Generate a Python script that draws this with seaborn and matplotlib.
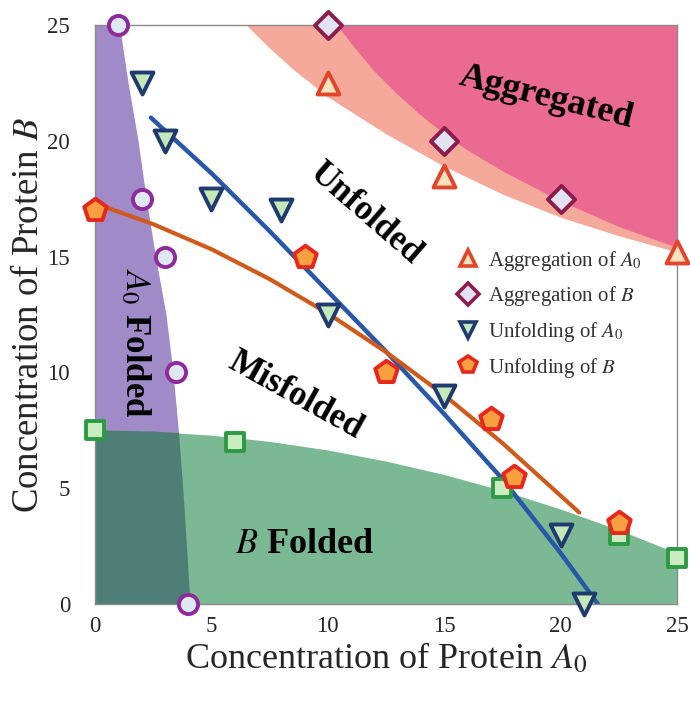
import matplotlib
matplotlib.use("Agg")
import matplotlib.pyplot as plt
import seaborn as sns
from matplotlib.lines import Line2D

sns.set_theme(style="white")
plt.rcParams['font.family'] = ['Liberation Serif', 'DejaVu Serif']
plt.rcParams['mathtext.fontset'] = 'stix'

# ---------------- data ----------------
# Aggregation of A0 (up triangles)
aggA_x = [10, 15, 25]
aggA_y = [22.5, 18.5, 15.2]
# Aggregation of B (diamonds)
aggB_x = [10, 15, 20]
aggB_y = [25, 20, 17.5]
# Unfolding of A0 (down triangles)
unfA_x = [2, 3, 5, 8, 10, 15, 20, 21]
unfA_y = [22.5, 20, 17.5, 17, 12.5, 9, 3, 0]
# Unfolding of B (pentagons)
unfB_x = [0, 9, 12.5, 17, 18, 22.5]
unfB_y = [17, 15, 10, 8, 5.5, 3.5]
# Folding of A0 boundary (circles)
foldA_x = [1, 2, 3, 3.5, 4]
foldA_y = [25, 17.5, 15, 10, 0]
# Folding of B boundary (squares)
foldB_x = [0, 6, 17.5, 22.5, 25]
foldB_y = [7.5, 7, 5, 3, 2]

# fitted curves
blue_x = [2.4, 5, 7.5, 10, 12.5, 15, 17.5, 20, 21.6]
blue_y = [21.0, 18.6, 16.1, 13.5, 10.9, 8.2, 5.4, 2.2, 0.0]
orange_x = [0, 2.5, 5, 7.5, 10, 12.5, 15, 17.5, 20.8]
orange_y = [17.3, 16.4, 15.32, 14.03, 12.55, 10.88, 9.02, 6.95, 3.95]

# region boundaries
purple_y = [0, 2.5, 5, 7.5, 10, 12.5, 15, 17.5, 20, 22.5, 25]
purple_x = [4.08, 3.93, 3.77, 3.58, 3.35, 3.05, 2.6, 2.2, 1.85, 1.42, 1.05]
green_x = [0, 2.5, 5, 7.5, 10, 12.5, 15, 17.5, 20, 22.5, 25]
green_y = [7.5, 7.45, 7.29, 7.02, 6.65, 6.17, 5.59, 4.9, 4.1, 3.2, 2.2]
salmon_x = [6.5, 7.5, 8.5, 10, 12.5, 15, 17.5, 20, 22.5, 25]
salmon_y = [25, 24.0, 23.1, 21.9, 20.3, 18.9, 17.7, 16.7, 15.9, 15.2]
pink_x = [10.4, 11, 12, 13, 14, 15, 16, 17.5, 20, 22.5, 25]
pink_y = [25, 24.2, 23.0, 22.0, 21.1, 20.3, 19.6, 18.7, 17.4, 16.3, 15.4]

xticks = [0, 5, 10, 15, 20, 25]
yticks = [0, 5, 10, 15, 20, 25]

# ---------------- figure ----------------
fig = plt.figure(figsize=(6.9, 7.04), dpi=100)
ax = fig.add_axes([95/690, 100/704, 582/690, 579/704])
ax.set_xlim(0, 25)
ax.set_ylim(0, 25)

# regions
ax.fill_between(salmon_x, salmon_y, 25, color='#f4a99a', lw=0, zorder=1)
ax.fill_between(pink_x, pink_y, 25, color='#ea6a92', lw=0, zorder=1.1)
ax.fill_betweenx(purple_y, 0, purple_x, color='#a08bc8', lw=0, zorder=1.2)
green_poly = ax.fill_between(green_x, 0, green_y, color='#7ab993', lw=0, zorder=1.3)
overlap = ax.fill_betweenx(purple_y, 0, purple_x, color='#4f7e77', lw=0, zorder=1.4)
overlap.set_clip_path(green_poly.get_paths()[0], ax.transData)

# curves
sns.lineplot(x=blue_x, y=blue_y, ax=ax, color='#2a58a8', lw=3.2, sort=False, zorder=3)
sns.lineplot(x=orange_x, y=orange_y, ax=ax, color='#cf5a1c', lw=3.0, sort=False, zorder=3)

def pts(x, y, marker, face, edge, size):
    sns.scatterplot(x=x, y=y, ax=ax, marker=marker, color=face, edgecolor=edge,
                    s=size, linewidth=2.8, clip_on=False, zorder=5, legend=False)

pts(foldA_x, foldA_y, 'o', '#dde8f2', '#8e2a9c', 190)
pts(foldB_x, foldB_y, 's', '#c9ecc0', '#2e9a44', 180)
pts(aggA_x, aggA_y, '^', '#fde2bf', '#e2452c', 250)
pts(aggB_x, aggB_y, 'D', '#e2e2f2', '#8c1c4c', 190)
pts(unfA_x, unfA_y, 'v', '#c4e8b8', '#1f3a6e', 250)
pts(unfB_x, unfB_y, 'p', '#f8a040', '#e8261c', 290)

# region labels
tk = dict(fontweight='bold', color='black', ha='center', va='center', zorder=6)
ax.text(19.4, 21.85, 'Aggregated', fontsize=26, rotation=-14, **tk)
ax.text(11.6, 16.85, 'Unfolded', fontsize=25, rotation=-41, **tk)
ax.text(1.72, 11.3, r'$A_0$ Folded', fontsize=25, rotation=-90, **tk)
ax.text(8.6, 9.0, 'Misfolded', fontsize=25, rotation=-29, **tk)
ax.text(9.0, 2.55, r'$B$ Folded', fontsize=26, rotation=0, **tk)

# legend
handles = [
    Line2D([], [], ls='none', marker='^', ms=12, mfc='#fde2bf', mec='#e2452c', mew=2.6),
    Line2D([], [], ls='none', marker='D', ms=11, mfc='#e2e2f2', mec='#8c1c4c', mew=2.6),
    Line2D([], [], ls='none', marker='v', ms=12, mfc='#c4e8b8', mec='#1f3a6e', mew=2.6),
    Line2D([], [], ls='none', marker='p', ms=13, mfc='#f8a040', mec='#e8261c', mew=2.6),
]
labels = [r'Aggregation of $A_0$', r'Aggregation of $B$', r'Unfolding of $A_0$', r'Unfolding of $B$']
leg = ax.legend(handles, labels, loc='upper left', bbox_to_anchor=(0.605, 0.628),
                frameon=False, fontsize=15, handletextpad=0.36, labelspacing=0.56,
                handlelength=1.2, borderaxespad=0)
for t in leg.get_texts():
    t.set_color('#333333')

# axes styling
ax.set_xticks(xticks)
ax.set_yticks(yticks)
ax.set_xticklabels([str(v) for v in xticks], fontsize=16.5)
ax.set_yticklabels([str(v) for v in yticks], fontsize=16.5)
ax.tick_params(axis='x', length=0, pad=9)
ax.tick_params(axis='y', length=0, pad=18)
for s in ax.spines.values():
    s.set_color('#8a8a8a')
    s.set_linewidth(1.0)
    s.set_zorder(4)
ax.set_xlabel(r'Concentration of Protein $A_0$', fontsize=26, labelpad=3)
ax.set_ylabel(r'Concentration of Protein $B$', fontsize=26.5, labelpad=1)

fig.savefig('out.png', dpi=100)
